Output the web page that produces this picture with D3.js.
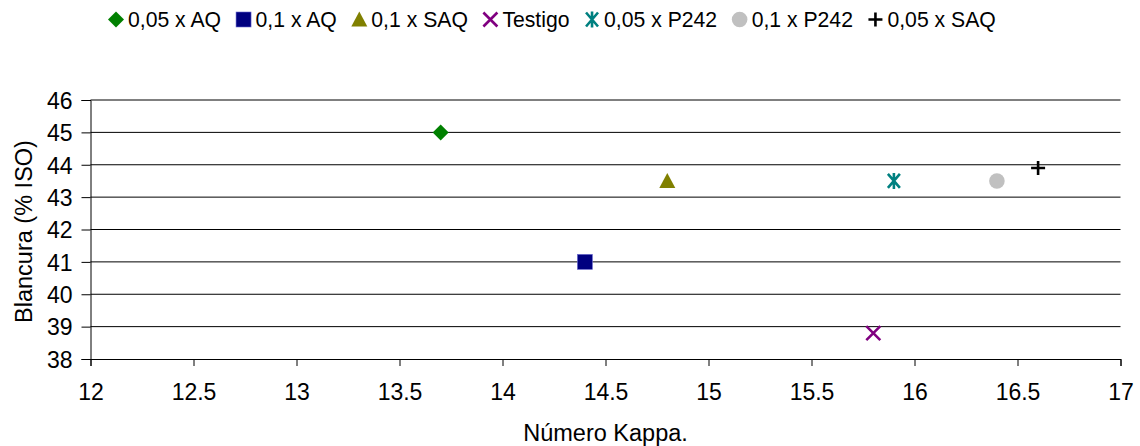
<!DOCTYPE html>
<html>
<head>
<meta charset="utf-8">
<script src="https://cdn.jsdelivr.net/npm/d3@7"></script>
<style>
  html, body { margin: 0; padding: 0; background: #fff; }
  svg { display: block; font-family: Arial, "Liberation Sans", sans-serif; }
</style>
</head>
<body>
<svg id="chart" width="1140" height="446"></svg>
<script>
// Series names, kappa number (x) and brightness (y)
const seriesNames = ["0,05 x AQ", "0,1 x AQ", "0,1 x SAQ", "Testigo", "0,05 x P242", "0,1 x P242", "0,05 x SAQ"];
const kappaValues = [13.7, 14.4, 14.8, 15.8, 15.9, 16.4, 16.6];
const brightnessValues = [45.0, 41.0, 43.5, 38.8, 43.5, 43.5, 43.9];
const markerShapes = ["diamond", "square", "triangle", "cross", "asterisk", "circle", "plus"];
const markerColors = ["#008000", "#000080", "#808000", "#800080", "#008080", "#C0C0C0", "#000000"];

const xTicks = [12, 12.5, 13, 13.5, 14, 14.5, 15, 15.5, 16, 16.5, 17];
const yTicks = [38, 39, 40, 41, 42, 43, 44, 45, 46];
const xTitle = "Número Kappa.";
const yTitle = "Blancura (% ISO)";

const svg = d3.select("#chart");
const plot = { left: 90.5, right: 1120.5, top: 100, bottom: 359 };

const x = d3.scaleLinear().domain([12, 17]).range([plot.left, plot.right]);
const y = d3.scaleLinear().domain([38, 46]).range([plot.bottom, plot.top]);

// Horizontal gridlines
svg.append("g")
  .selectAll("line")
  .data(yTicks.filter(t => t > 38))
  .join("line")
  .attr("x1", plot.left).attr("x2", plot.right)
  .attr("y1", d => y(d)).attr("y2", d => y(d))
  .attr("stroke", "#000").attr("stroke-width", 1);

// Axes
const xAxis = svg.append("g")
  .attr("transform", `translate(0,${plot.bottom})`)
  .call(d3.axisBottom(x).tickValues(xTicks).tickSize(7).tickPadding(18).tickFormat(d3.format("")));
const yAxis = svg.append("g")
  .attr("transform", `translate(${plot.left},0)`)
  .call(d3.axisLeft(y).tickValues(yTicks).tickSize(9).tickPadding(9).tickFormat(d3.format("d")));

[xAxis, yAxis].forEach(g => {
  g.select(".domain").attr("stroke", "#000");
  g.selectAll(".tick line").attr("stroke", "#000");
  g.selectAll(".tick text").attr("font-size", 23).attr("fill", "#000")
    .attr("font-family", "Arial, 'Liberation Sans', sans-serif");
});
yAxis.selectAll(".tick text").attr("dy", "0.36em");

// Axis titles
svg.append("text")
  .attr("x", (plot.left + plot.right) / 2).attr("y", 441)
  .attr("text-anchor", "middle").attr("font-size", 23.5).text(xTitle);
svg.append("text")
  .attr("transform", `translate(32,${(plot.top + plot.bottom) / 2 + 2}) rotate(-90)`)
  .attr("text-anchor", "middle").attr("font-size", 23.5).text(yTitle);

// Marker drawing
function drawMarker(g, shape, color) {
  switch (shape) {
    case "diamond":
      g.append("path").attr("d", "M0,-8L8,0L0,8L-8,0Z").attr("fill", color);
      break;
    case "square":
      g.append("rect").attr("x", -7.5).attr("y", -7.5).attr("width", 15).attr("height", 15)
        .attr("fill", color).attr("stroke", "#6a6acf").attr("stroke-width", 0.6);
      break;
    case "triangle":
      g.append("path").attr("d", "M0,-8L8,7L-8,7Z").attr("fill", color);
      break;
    case "cross":
      g.append("path").attr("d", "M-7,-7L7,7M7,-7L-7,7").attr("stroke", color).attr("stroke-width", 2.6).attr("fill", "none");
      break;
    case "asterisk":
      g.append("path").attr("d", "M-6,-7L6,7M6,-7L-6,7M0,-8V8").attr("stroke", color).attr("stroke-width", 2.6).attr("fill", "none");
      break;
    case "circle":
      g.append("circle").attr("r", 7.8).attr("fill", color);
      break;
    case "plus":
      g.append("path").attr("d", "M-7,0H7M0,-7V7").attr("stroke", color).attr("stroke-width", 2.6).attr("fill", "none");
      break;
  }
}

// Data points
seriesNames.forEach((name, i) => {
  const g = svg.append("g")
    .attr("transform", `translate(${x(kappaValues[i])},${y(brightnessValues[i])})`);
  drawMarker(g, markerShapes[i], markerColors[i]);
});

// Legend
const legend = svg.append("g");
let cx = 116;
seriesNames.forEach((name, i) => {
  const g = legend.append("g").attr("transform", `translate(${cx},19.5)`);
  drawMarker(g, markerShapes[i], markerColors[i]);
  const t = legend.append("text")
    .attr("x", cx + 12).attr("y", 26.5)
    .attr("font-size", 21.2).attr("fill", "#000").text(name);
  cx += 12 + t.node().getComputedTextLength() + 22.5;
});
</script>
</body>
</html>
